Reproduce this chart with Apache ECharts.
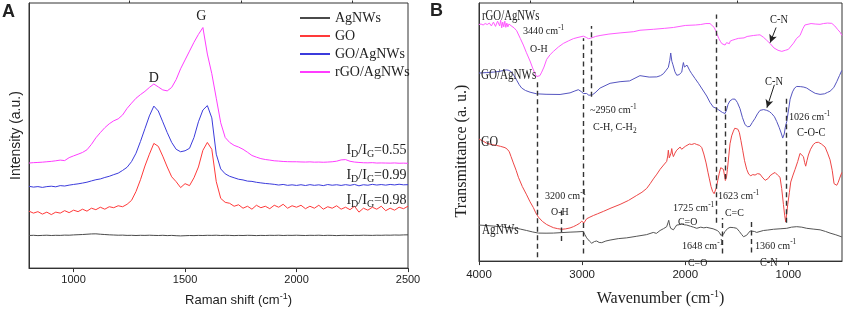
<!DOCTYPE html>
<html><head><meta charset="utf-8">
<script src="https://cdn.jsdelivr.net/npm/echarts@6/dist/echarts.min.js"></script>
<style>html,body{margin:0;padding:0;background:#fff}#c{width:844px;height:312px}</style>
</head><body><div id="c"></div>
<script>
// ---------- Panel A: Raman ----------
const ramanShift = [800,820,840,860,880,900,920,940,960,980,1000,1020,1040,1060,1080,1100,1120,1140,1160,1180,1200,1220,1240,1260,1280,1300,1320,1340,1360,1380,1400,1420,1440,1460,1480,1500,1520,1540,1560,1580,1600,1620,1640,1660,1680,1700,1720,1740,1760,1780,1800,1820,1840,1860,1880,1900,1920,1940,1960,1980,2000,2020,2040,2060,2080,2100,2120,2140,2160,2180,2200,2220,2240,2260,2280,2300,2320,2340,2360,2380,2400,2420,2440,2460,2480,2500];
const ramanAgNWs = [33.2,33.4,33.1,33.3,33.5,33.2,33.4,33.3,33.6,33.5,33.8,34,34.2,34.5,34.8,34.9,34.5,34.2,33.9,33.7,33.5,33.6,33.3,33.4,33.2,33.4,33.3,33.5,33.3,33.2,33.4,33.1,33.3,33.0,32.8,33.0,33.2,33.1,33.3,33.2,33.4,33.3,33.5,33.2,33.4,33.3,33.1,33.3,33.2,33.4,33.3,33.1,33.3,33.2,33.4,33.3,33.5,33.2,33.4,33.3,33.5,33.3,33.2,33.4,33.3,33.5,33.2,33.4,33.3,33.1,33.3,33.4,33.2,33.4,33.3,33.5,33.4,33.3,33.5,33.4,33.6,33.5,33.7,33.6,33.8,33.9];
const ramanGO = [58,56,57.5,55,57,54.5,57,56,58.5,56.5,59,57.5,60,58,61,59.5,62,60,62.5,61.5,63.5,62.5,65,69,78,90,104,116,127,124,114,103,93,88,82,86,84,92,103,120,128,121,88,71,67,66,63,64.5,61,63,60,64,61.5,63,60.5,64,62,65,61,63.5,62,64,60.5,63,61,64,60,62.5,61,63.5,60,62,59.5,63,57,61,59,62,60,63,58.5,61,59,62,60.5,63];
const ramanGOAgNWs = [83.3,82.5,83,82.2,83,83.4,82.8,84,83.6,84.5,85.2,85.8,86.6,87.5,88.8,90,90.8,92.3,93.5,95.2,96.7,99.5,102.7,108.5,117,129,142,155,165,160,149,138,128,121,118.5,119.5,122,133,149,161,165.5,153,116,101,96,93.5,92,90.5,89.8,88.6,88.3,87.4,86.8,86.2,85.8,85.3,84.6,85.2,84.3,84.8,84.2,84.9,84.1,85,84.3,84.8,84,85.1,84.4,84.9,84.2,85,84.3,85.2,83.8,84.9,84.4,85.3,84.6,85.1,84.5,85.2,84.7,85.4,84.8,85];
const ramanRGOAgNWs = [107,107.4,107.6,107.9,108.3,108.7,109.3,110,109.5,112.5,114.3,116,117.8,120.5,126,132.7,138,143,147,150,152,156,162.7,168,173,176.7,180,184,187.5,184.5,181.5,180.5,184,192,203,212,221,230,238,245,218,198,173,148,133,128,125,123.3,121,118,114.7,113,111.5,110.6,110,109.3,109,108.6,108.4,108.3,108.3,108.1,108,108.2,107.9,108,107.8,108,108.3,108.9,110.2,110.5,108.8,108,107.6,107.3,107.2,107.4,107,107.1,107,106.9,107.1,106.8,106.9,106.7];
const ramanTicks = [1000,1500,2000,2500];
const ramanMinorTicks = [1250,1750,2250];

// ---------- Panel B: FTIR ----------
const ftirAgNWsX = [4000,3930,3861,3800,3780,3760,3732,3700,3680,3635,3600,3538,3480,3424,3350,3279,3200,3117,3050,2990,2975,2956,2930,2907,2880,2859,2835,2810,2770,2729,2650,2568,2470,2374,2310,2280,2244,2210,2180,2168,2160,2150,2141,2128,2115,2100,2083,2060,2045,2034,2010,1986,1950,1920,1889,1850,1820,1792,1760,1730,1711,1690,1669,1655,1643,1630,1614,1590,1566,1530,1501,1475,1452,1435,1420,1405,1388,1370,1355,1330,1307,1275,1242,1200,1145,1080,1016,970,919,870,822,760,692,640,596,540,482];
const ftirAgNWsY = [37.7,37.2,36.7,36,36.8,35.5,35,35.3,34.5,34.3,33.5,32,30.5,29.3,29.2,29.3,29.8,30.3,30.6,31,28,24.3,21,18.7,20.5,21,19.5,19.3,21,22,23.5,24.3,26,27.7,30,29,32,34,36,40,42.7,37,34.3,33,32.7,35,37.7,38,36.5,39.3,38,37.7,36.5,35.5,34.3,35.5,34.8,35.3,34.5,33.8,33.3,32,30,27,25.3,28,31,34,35.3,35,34.3,31,27.7,25.5,24.3,27,29.3,31.5,32,31,30,31,32,32.5,33.3,33.8,34.3,35.5,36,35.5,34.3,33.5,32.7,31,29.3,27.5,25.3];
const ftirGOX = [4000,3960,3926,3880,3829,3790,3748,3725,3706,3690,3667,3640,3618,3580,3538,3505,3473,3450,3424,3385,3344,3310,3279,3240,3198,3160,3117,3085,3053,3025,3004,2992,2982,2970,2956,2925,2891,2850,2794,2720,2632,2550,2471,2420,2374,2340,2309,2275,2244,2210,2180,2170,2164,2155,2147,2138,2131,2123,2115,2100,2083,2065,2050,2035,2018,2000,1986,1960,1937,1910,1889,1860,1840,1820,1798,1780,1766,1750,1734,1720,1711,1698,1685,1670,1656,1642,1630,1620,1611,1600,1591,1578,1566,1550,1533,1520,1507,1490,1475,1460,1443,1425,1404,1385,1365,1345,1323,1300,1275,1255,1242,1225,1210,1195,1178,1150,1129,1105,1081,1065,1048,1036,1026,1016,1006,990,977,955,935,910,887,870,854,842,832,820,806,785,758,735,709,680,644,620,596,575,557,545,531,518,505,482];
const ftirGOY = [127.7,125.5,123.3,122,121,120,118.7,117,114.3,109.5,102.7,95,87.7,78,69.3,62,56,50.5,46,41.5,38.3,36.5,35,34,33.3,33.7,34.7,36,37.7,39.5,41.7,42.5,40,42,44.3,46,47.7,49.5,52,55.5,59.3,63.5,68.7,72,76,81,86,91,96,100.5,104.3,110,116,108,107.7,113,117.7,112,109.3,113,116,118,119.3,117,118.7,120,121,122.5,122,123,122,121,118.7,112,102.7,93,86,78,72.7,70.5,71,77,84.3,92,97.7,98,96,90,84.3,88,96,110,122.7,131,136,139,140,138,134.3,126,116,105,96,91,89.3,90.5,90,91.5,91,88,86,84.5,84.3,86.5,89.3,91.5,92.7,90,87.7,76,59.3,48,41,50,59.3,72,82.7,90,96,104,112.7,112,109.3,103,99.3,105,111,117,122,124,124.3,122.5,119.3,113,106,95,81,79,79.3,82,86,92.7];
const ftirGOAgNWsX = [4000,3930,3861,3800,3760,3732,3710,3683,3660,3635,3610,3586,3550,3505,3441,3350,3214,3117,3070,3037,3010,2988,2956,2935,2923,2900,2875,2826,2729,2632,2540,2439,2350,2276,2240,2212,2190,2164,2150,2141,2130,2121,2100,2082,2060,2045,2034,2025,2018,2008,1995,1983,1970,1955,1937,1905,1872,1830,1792,1760,1727,1700,1680,1662,1640,1625,1614,1600,1585,1566,1540,1517,1495,1469,1445,1420,1395,1372,1350,1323,1300,1275,1240,1210,1185,1162,1135,1113,1090,1070,1055,1040,1030,1016,1000,983,960,940,919,880,850,822,780,740,693,650,620,596,560,531,505,482];
const ftirGOAgNWsY = [196.7,197.2,197.7,198.5,199.5,200,199.5,197.7,194,189.3,184.5,181,178.5,176.7,175,174.5,174.3,176,178,179.3,177.5,175.3,175.3,173.5,172.7,174,176,181,186,187.7,188.5,194,192.5,192.7,194,196,199,202.7,210,217.7,209,206,198,194.4,195,197,197.7,204,207.7,203,201,205,204.4,199,196,191,186,179,172.7,166,161,160,158.5,157.7,155.5,154.4,154.4,158,164,167.7,169.5,169.4,166,159.4,150,142.7,140.5,141,145,149.4,154,157.7,158.5,157.7,156.5,154.4,151,146,140,134,128.7,133,140,146,157,169.4,177,181,182.7,182.5,182,181,178,175.5,174.4,175,176.5,177.7,181.5,187.7,194,199.4];
const ftirRGOAgNWsX = [4000,3980,3960,3940,3920,3900,3880,3860,3840,3820,3800,3790,3780,3770,3760,3750,3740,3730,3720,3710,3700,3680,3660,3635,3600,3570,3540,3505,3480,3457,3440,3424,3410,3392,3370,3344,3310,3279,3230,3182,3130,3085,3040,2988,2960,2940,2920,2907,2870,2826,2740,2632,2500,2439,2309,2200,2115,2000,1900,1850,1800,1760,1743,1720,1705,1690,1675,1660,1645,1630,1614,1600,1590,1582,1572,1565,1555,1545,1530,1515,1500,1485,1469,1430,1400,1340,1300,1275,1240,1210,1178,1140,1100,1064,1030,1000,983,950,920,887,860,840,822,780,740,693,660,620,579,550,520,498,480];
const ftirRGOAgNWsY = [247.5,248,247,248.5,247.5,249,246,250,245.5,251,246,252,244,250,245,251,244.5,249,245,248,246.5,245.5,244,241,233,226,218,209.3,202,196,193,192.7,194,197.7,203,211,216,219.3,224,227.7,230.5,232.7,234,235.3,234,232.7,233,233.7,235,236,237.5,238.7,240,241.5,242.5,243.5,244.4,246.5,247,247.5,248.5,248.5,246.7,244.5,241,237,233,230,227.5,226.5,226,228.5,227,229.4,227.5,230,228.5,231,229.5,232,231,233,232.7,233.5,235,236,236.5,236.7,234,231,227.7,223,220.5,219.4,220.5,221.5,222.7,228,233,236,243,247,248.7,248.5,248,247.7,248.5,249,248.7,246,242,239.4,236];
const ftirTicks = [1000,2000,3000,4000];
const ftirMinorTicks = [1500,2500,3500];
// dashed guide lines: [wavenumber, lower, upper]
const ftirGuides = [[3435,4,190],[2985,8,233],[2907,172,246],[1703,40,258],[1645,8,45],[1608,86,170],[1358,9,42],[1020,40,171],[3198,21,54]];
// arrows: [from wn, from y, to wn, to y]
const ftirArrows = [[1119,244.4,1177,228.5],[1136,184.4,1208,160.5]];

const serif = "'Liberation Serif','Times New Roman',serif";
const sans = "'Liberation Sans',Arial,sans-serif";
const names = ['AgNWs','GO','GO/AgNWs','rGO/AgNWs'];
const colA = ['#4a4a4a','#ff3a3a','#3b3bdc','#ff3cff'];
const colB = ['#555555','#ee4646','#5555c0','#ff5aff'];

function pairs(xs, ys){ return xs.map((x,i)=>[x, ys[i]]); }
const ramanSets = [ramanAgNWs, ramanGO, ramanGOAgNWs, ramanRGOAgNWs];
const ftirSets = [[ftirAgNWsX,ftirAgNWsY],[ftirGOX,ftirGOY],[ftirGOAgNWsX,ftirGOAgNWsY],[ftirRGOAgNWsX,ftirRGOAgNWsY]];

const series = [];
ramanSets.forEach((ys,i)=>series.push({name:names[i], type:'line', xAxisIndex:0, yAxisIndex:0, data:pairs(ramanShift, ys), symbol:'none', silent:true, lineStyle:{width:1, color:colA[i]}, itemStyle:{color:colA[i]}}));
ftirSets.forEach((p,i)=>{
  const s = {name:names[i], type:'line', xAxisIndex:2, yAxisIndex:1, data:pairs(p[0], p[1]), symbol:'none', silent:true, lineStyle:{width:1, color:colB[i]}, itemStyle:{color:colB[i]}};
  if(i===0){
    const md = ftirGuides.map(g=>[{coord:[g[0],g[1]]},{coord:[g[0],g[2]]}]);
    ftirArrows.forEach(a=>md.push([{coord:[a[0],a[1]], symbol:'none', lineStyle:{type:'solid', width:1, color:'#222'}},{coord:[a[2],a[3]], symbol:'arrow', symbolSize:[6,8], lineStyle:{type:'solid', width:1, color:'#222'}}]));
    s.markLine = {silent:true, symbol:'none', animation:false, label:{show:false}, emphasis:{disabled:true},
      lineStyle:{type:[5,3.5], color:'#333', width:1.4}, data: md};
  }
  series.push(s);
});

const axisLineStyle = {show:true, lineStyle:{color:'#333', width:1}};
const supRich = {n:{fontFamily:sans, fontSize:13, color:'#222', lineHeight:15, padding:[4,0,0,0], verticalAlign:'bottom'}, s:{fontFamily:sans, fontSize:9, color:'#222', lineHeight:10, verticalAlign:'top'}};
const supRichSerif = {n:{fontFamily:serif, fontSize:16, color:'#222', lineHeight:18, padding:[5,0,0,0], verticalAlign:'bottom'}, s:{fontFamily:serif, fontSize:10, color:'#222', lineHeight:11, verticalAlign:'top'}};
const plain = v => String(v);

const option = {
  animation:false,
  backgroundColor:'#fff',
  grid:[
    {left:29, right:436, top:3, bottom:39, show:true, borderColor:'#333', borderWidth:1, backgroundColor:'transparent'},
    {left:479, right:2, top:3, bottom:39, show:true, borderColor:'#333', borderWidth:1, backgroundColor:'transparent'}
  ],
  legend:{data:names, orient:'vertical', left:295, top:6, itemWidth:30, itemHeight:2, icon:'rect', itemGap:4,
    textStyle:{fontFamily:serif, fontSize:14, color:'#222', lineHeight:14}, selectedMode:false},
  xAxis:[
    {gridIndex:0, type:'value', min:800, max:2500, axisLine:axisLineStyle, splitLine:{show:false},
     axisTick:{show:true, customValues:ramanTicks, length:4, lineStyle:{color:'#333'}},
     axisLabel:{customValues:ramanTicks, formatter:plain, fontFamily:sans, fontSize:11, color:'#222', margin:6},
     name:'{n|Raman shift (cm}{s|-1}{n|)}', nameLocation:'middle', nameGap:14,
     nameTextStyle:{rich:supRich, padding:[0,0,0,40]}},
    {gridIndex:0, type:'value', min:800, max:2500, axisLine:{show:false}, splitLine:{show:false},
     axisTick:{show:true, customValues:ramanMinorTicks, length:2.5, lineStyle:{color:'#333'}}, axisLabel:{show:false}},
    {gridIndex:1, type:'value', min:480, max:4000, inverse:true, axisLine:axisLineStyle, splitLine:{show:false},
     axisTick:{show:true, customValues:ftirTicks, length:4, lineStyle:{color:'#333'}},
     axisLabel:{customValues:ftirTicks, formatter:plain, fontFamily:sans, fontSize:11.5, color:'#222', margin:8},
     name:'{n|Wavenumber (cm}{s|-1}{n|)}', nameLocation:'middle', nameGap:13,
     nameTextStyle:{rich:supRichSerif}},
    {gridIndex:1, type:'value', min:480, max:4000, inverse:true, axisLine:{show:false}, splitLine:{show:false},
     axisTick:{show:true, customValues:ftirMinorTicks, length:2.5, lineStyle:{color:'#333'}}, axisLabel:{show:false}}
  ],
  yAxis:[
    {gridIndex:0, type:'value', min:0, max:270, axisLine:axisLineStyle, axisTick:{show:false}, axisLabel:{show:false}, splitLine:{show:false},
     name:'Intensity (a.u.)', nameLocation:'middle', nameGap:6, nameTextStyle:{fontFamily:sans, fontSize:14, color:'#222'}},
    {gridIndex:1, type:'value', min:0, max:270, axisLine:axisLineStyle, axisTick:{show:false}, axisLabel:{show:false}, splitLine:{show:false},
     name:'Transmittance (a. u.)', nameLocation:'middle', nameGap:9, nameTextStyle:{fontFamily:serif, fontSize:16, color:'#222', padding:[0,38,0,0]}}
  ],
  series: series
};

// ---------- annotations ----------
const g = [];
function t(text, x, y, o){
  o = o || {};
  g.push({type:'text', x:x, y:y, scaleX:o.sx||1, silent:true, z:100,
    style:{text:text, rich:o.rich, fontFamily:o.ff||serif, fontSize:o.fs||11, fontWeight:o.fw||'normal', fill:'#222', align:o.al||'left', verticalAlign:'middle'}});
}
const rSup = {n:{fontFamily:serif, fontSize:11, lineHeight:13, padding:[4,0,0,0], verticalAlign:'bottom', fill:'#222'}, s:{fontFamily:serif, fontSize:8, lineHeight:9, verticalAlign:'top', fill:'#222'}};
const rSub = {n:{fontFamily:serif, fontSize:11, lineHeight:13, verticalAlign:'top', fill:'#222'}, b:{fontFamily:serif, fontSize:8, lineHeight:9, padding:[6,0,0,0], verticalAlign:'bottom', fill:'#222'}};
const rSubBig = {n:{fontFamily:serif, fontSize:14, lineHeight:16, verticalAlign:'top', fill:'#222'}, b:{fontFamily:serif, fontSize:10, lineHeight:11, padding:[7,0,0,0], verticalAlign:'bottom', fill:'#222'}};

// panel letters
t('A', 2, 12, {ff:sans, fs:18, fw:'bold'});
t('B', 430, 11, {ff:sans, fs:18, fw:'bold'});
// panel A
t('D', 153.8, 78, {fs:14, al:'center'});
t('G', 201.3, 16.5, {fs:14, al:'center'});
t('{n|I}{b|D}{n|/I}{b|G}{n|=0.55}', 406.5, 151.5, {rich:rSubBig, al:'right'});
t('{n|I}{b|D}{n|/I}{b|G}{n|=0.99}', 406.5, 176.8, {rich:rSubBig, al:'right'});
t('{n|I}{b|D}{n|/I}{b|G}{n|=0.98}', 406.5, 201.8, {rich:rSubBig, al:'right'});
// panel B
t('rGO/AgNWs', 482, 16, {fs:14, sx:0.77});
t('GO/AgNWs', 481, 75.5, {fs:14, sx:0.79});
t('GO', 481, 142, {fs:14, sx:0.85});
t('AgNWs', 482, 230, {fs:14, sx:0.8});
t('{n|3440 cm}{s|-1}', 523, 30.5, {rich:rSup, sx:0.92});
t('O-H', 530, 48.7, {fs:11, sx:0.9});
t('{n|~2950 cm}{s|-1}', 590, 109.5, {rich:rSup, sx:0.92});
t('{n|C-H, C-H}{b|2}', 593, 128.5, {rich:rSub, sx:0.92});
t('C-N', 770, 19.5, {fs:13, sx:0.8});
t('C-N', 765, 81.3, {fs:13, sx:0.8});
t('{n|1026 cm}{s|-1}', 789, 116, {rich:rSup, sx:0.92});
t('C-O-C', 797, 133, {fs:12, sx:0.87});
t('{n|3200 cm}{s|-1}', 545, 195, {rich:rSup, sx:0.92});
t('O-H', 551, 212, {fs:11, sx:0.9});
t('{n|1725 cm}{s|-1}', 673, 207, {rich:rSup, sx:0.92});
t('C=O', 678, 222, {fs:11, sx:0.9});
t('{n|1623 cm}{s|-1}', 718, 195, {rich:rSup, sx:0.92});
t('C=C', 725, 212.7, {fs:11, sx:0.9});
t('{n|1648 cm}{s|-1}', 682, 245, {rich:rSup, sx:0.92});
t('C=O', 688, 262.7, {fs:11, sx:0.9});
t('{n|1360 cm}{s|-1}', 755, 244.7, {rich:rSup, sx:0.92});
t('C-N', 760, 262.5, {fs:12, sx:0.85});
option.graphic = g;

const chart = echarts.init(document.getElementById('c'), null, {renderer:'canvas'});
chart.setOption(option);
</script></body></html>
